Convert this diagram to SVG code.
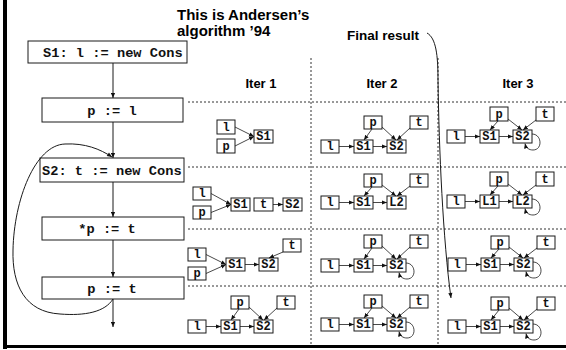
<svg xmlns="http://www.w3.org/2000/svg" width="566" height="350" viewBox="0 0 566 350">
<style>
.b{fill:#fff;stroke:#1a1a1a;stroke-width:1}
.m{font-family:"Liberation Mono","Courier New",monospace;font-weight:bold;font-size:12px;text-anchor:middle;fill:#111}
.fm{font-family:"Liberation Mono","Courier New",monospace;font-weight:bold;font-size:13.7px;fill:#111}
.h{font-family:"Liberation Sans",Arial,sans-serif;font-weight:bold;fill:#000}
.e{fill:none;stroke:#1a1a1a;stroke-width:0.8;marker-end:url(#a)}
.f{fill:none;stroke:#1a1a1a;stroke-width:1;marker-end:url(#fa)}
.d{stroke:#333;stroke-width:1;stroke-dasharray:2 2;fill:none}
</style>
<defs>
<marker id="a" viewBox="0 0 6 6" refX="6" refY="3" markerWidth="5" markerHeight="5" markerUnits="userSpaceOnUse" orient="auto"><path d="M0,0.5 L6,3 L0,5.5z" fill="#111"/></marker>
<marker id="fa" viewBox="0 0 6 6" refX="6" refY="3" markerWidth="6" markerHeight="5" markerUnits="userSpaceOnUse" orient="auto"><path d="M0,0.5 L6,3 L0,5.5z" fill="#111"/></marker>
</defs>
<rect x="0" y="0" width="566" height="350" fill="#fff"/>
<rect x="3" y="0" width="4" height="349" fill="#000"/>
<rect x="3" y="345" width="563" height="3" fill="#000"/>

<text class="h" x="177" y="20" font-size="15">This is Andersen’s</text>
<text class="h" x="177" y="36" font-size="15">algorithm ’94</text>
<text class="h" x="347" y="40" font-size="13.5">Final result</text>
<text class="h" x="261" y="88" font-size="13" text-anchor="middle">Iter 1</text>
<text class="h" x="382" y="88" font-size="13" text-anchor="middle">Iter 2</text>
<text class="h" x="518" y="88" font-size="13" text-anchor="middle">Iter 3</text>

<g id="grid">
<path class="d" d="M188,102 H566 M188,167 H566 M188,229 H566 M188,286 H566 M311,58 V345 M438,58 V345"/>
</g>

<!-- flowchart -->
<g id="f1"><rect class="b" x="28" y="41" width="159" height="22"/><text class="fm" x="43" y="57">S1: l := new Cons</text></g>
<g id="f2"><rect class="b" x="42" y="98" width="141" height="24"/><text class="fm" x="112" y="114.5" text-anchor="middle">p := l</text></g>
<g id="f3"><rect class="b" x="40" y="158" width="144" height="24"/><text class="fm" x="42" y="174.5">S2: t := new Cons</text></g>
<g id="f4"><rect class="b" x="42" y="217" width="142" height="23"/><text class="fm" x="107" y="233" text-anchor="middle">*p := t</text></g>
<g id="f5"><rect class="b" x="42" y="277" width="142" height="22"/><text class="fm" x="112" y="292.5" text-anchor="middle">p := t</text></g>
<g id="flow-connectors">
<path class="f" d="M113,63 V98"/>
<path class="f" d="M113,122 V158"/>
<path class="f" d="M113,182 V217"/>
<path class="f" d="M113,240 V277"/>
<path class="f" d="M113,299 V327"/>
<path class="f" d="M113,299 C105,312 85,316 60,314 C25,312 12,285 13,250 C14,200 35,145 65,144 C85,143 100,149 112,157"/>
<path class="f" d="M427,33 C436,38 438,55 438,80 C439,150 443,240 451,298"/>
</g>

<!-- Iter 1 row 1 -->
<g id="i1r1">
<g id="i1r1-l"><rect class="b" x="217" y="120" width="18" height="14"/><text class="m" x="226" y="131">l</text></g>
<g id="i1r1-p"><rect class="b" x="217" y="139" width="18" height="14"/><text class="m" x="226" y="150">p</text></g>
<g id="i1r1-S1"><rect class="b" x="254" y="130" width="19" height="13"/><text class="m" x="263.5" y="140">S1</text></g>
<g id="i1r1-edges"><path class="e" d="M235,127 L254,136.5"/><path class="e" d="M235,146 L254,136.5"/></g>
</g>

<!-- Iter 1 row 2 -->
<g id="i1r2">
<g id="i1r2-l"><rect class="b" x="193" y="187" width="18" height="13"/><text class="m" x="202" y="197">l</text></g>
<g id="i1r2-p"><rect class="b" x="193" y="206" width="18" height="13"/><text class="m" x="202" y="216">p</text></g>
<g id="i1r2-S1"><rect class="b" x="231" y="198" width="19" height="13"/><text class="m" x="240.5" y="208">S1</text></g>
<g id="i1r2-t"><rect class="b" x="254" y="198" width="19" height="13"/><text class="m" x="263.5" y="208">t</text></g>
<g id="i1r2-S2"><rect class="b" x="283" y="198" width="19" height="13"/><text class="m" x="292.5" y="208">S2</text></g>
<g id="i1r2-edges"><path class="e" d="M211,193.5 L231,204.5"/><path class="e" d="M211,212.5 L231,204.5"/><path class="e" d="M273,204.5 H283"/></g>
</g>

<!-- Iter 1 row 3 -->
<g id="i1r3">
<g id="i1r3-l"><rect class="b" x="188" y="248" width="18" height="13"/><text class="m" x="197" y="258">l</text></g>
<g id="i1r3-p"><rect class="b" x="188" y="267" width="18" height="13"/><text class="m" x="197" y="277">p</text></g>
<g id="i1r3-S1"><rect class="b" x="226" y="258" width="19" height="13"/><text class="m" x="235.5" y="268">S1</text></g>
<g id="i1r3-S2"><rect class="b" x="259" y="258" width="19" height="13"/><text class="m" x="268.5" y="268">S2</text></g>
<g id="i1r3-t"><rect class="b" x="283" y="239" width="18" height="13"/><text class="m" x="292" y="249">t</text></g>
<g id="i1r3-edges"><path class="e" d="M206,254.5 L226,264.5"/><path class="e" d="M206,273.5 L226,264.5"/><path class="e" d="M245,264.5 H259"/><path class="e" d="M283,252 L269,258"/></g>
</g>

<!-- Iter 1 row 4 -->
<g id="i1r4" transform="translate(188,320)">
<g id="i1r4-l"><rect class="b" x="0" y="0" width="18" height="13"/><text class="m" x="9" y="10">l</text></g>
<g id="i1r4-S1"><rect class="b" x="33" y="0" width="19" height="13"/><text class="m" x="42.5" y="10">S1</text></g>
<g id="i1r4-S2"><rect class="b" x="66" y="0" width="19" height="13"/><text class="m" x="75.5" y="10">S2</text></g>
<g id="i1r4-p"><rect class="b" x="43" y="-24" width="18" height="13"/><text class="m" x="52" y="-14">p</text></g>
<g id="i1r4-t"><rect class="b" x="89" y="-24" width="18" height="13"/><text class="m" x="98" y="-14">t</text></g>
<g id="i1r4-edges"><path class="e" d="M18,6.5 H33"/><path class="e" d="M52,6.5 H66"/><path class="e" d="M51,-11 L43,0"/><path class="e" d="M61,-13 L75,0"/><path class="e" d="M89,-12 L76,0"/></g>
</g>

<!-- Iter 2 row 1 -->
<g id="i2r1" transform="translate(321,140)">
<g id="i2r1-l"><rect class="b" x="0" y="0" width="18" height="13"/><text class="m" x="9" y="10">l</text></g>
<g id="i2r1-S1"><rect class="b" x="33" y="0" width="19" height="13"/><text class="m" x="42.5" y="10">S1</text></g>
<g id="i2r1-S2"><rect class="b" x="66" y="0" width="19" height="13"/><text class="m" x="75.5" y="10">S2</text></g>
<g id="i2r1-p"><rect class="b" x="43" y="-24" width="18" height="13"/><text class="m" x="52" y="-14">p</text></g>
<g id="i2r1-t"><rect class="b" x="89" y="-24" width="18" height="13"/><text class="m" x="98" y="-14">t</text></g>
<g id="i2r1-edges"><path class="e" d="M18,6.5 H33"/><path class="e" d="M52,6.5 H66"/><path class="e" d="M51,-11 L43,0"/><path class="e" d="M61,-13 L75,0"/><path class="e" d="M89,-12 L76,0"/></g>
</g>

<!-- Iter 2 row 2 -->
<g id="i2r2" transform="translate(321,196)">
<g id="i2r2-l"><rect class="b" x="0" y="0" width="18" height="13"/><text class="m" x="9" y="10">l</text></g>
<g id="i2r2-S1"><rect class="b" x="33" y="0" width="19" height="13"/><text class="m" x="42.5" y="10">S1</text></g>
<g id="i2r2-L2"><rect class="b" x="66" y="0" width="19" height="13"/><text class="m" x="75.5" y="10">L2</text></g>
<g id="i2r2-p"><rect class="b" x="43" y="-22" width="18" height="13"/><text class="m" x="52" y="-12">p</text></g>
<g id="i2r2-t"><rect class="b" x="89" y="-22" width="18" height="13"/><text class="m" x="98" y="-12">t</text></g>
<g id="i2r2-edges"><path class="e" d="M18,6.5 H33"/><path class="e" d="M52,6.5 H66"/><path class="e" d="M51,-9 L43,0"/><path class="e" d="M61,-11 L75,0"/><path class="e" d="M89,-10 L76,0"/></g>
</g>

<!-- Iter 2 row 3 -->
<g id="i2r3" transform="translate(321,259)">
<g id="i2r3-l"><rect class="b" x="0" y="0" width="18" height="13"/><text class="m" x="9" y="10">l</text></g>
<g id="i2r3-S1"><rect class="b" x="33" y="0" width="19" height="13"/><text class="m" x="42.5" y="10">S1</text></g>
<g id="i2r3-S2"><rect class="b" x="66" y="0" width="19" height="13"/><text class="m" x="75.5" y="10">S2</text></g>
<g id="i2r3-p"><rect class="b" x="43" y="-24" width="18" height="13"/><text class="m" x="52" y="-14">p</text></g>
<g id="i2r3-t"><rect class="b" x="89" y="-24" width="18" height="13"/><text class="m" x="98" y="-14">t</text></g>
<g id="i2r3-edges"><path class="e" d="M18,6.5 H33"/><path class="e" d="M52,6.5 H66"/><path class="e" d="M51,-11 L43,0"/><path class="e" d="M61,-13 L75,0"/><path class="e" d="M89,-12 L76,0"/><path class="e" d="M85,4 C95,4 96,20 86,20 C82,20 79,18 78,13.5"/></g>
</g>

<!-- Iter 2 row 4 -->
<g id="i2r4" transform="translate(321,318)">
<g id="i2r4-l"><rect class="b" x="0" y="0" width="18" height="13"/><text class="m" x="9" y="10">l</text></g>
<g id="i2r4-S1"><rect class="b" x="33" y="0" width="19" height="13"/><text class="m" x="42.5" y="10">S1</text></g>
<g id="i2r4-S2"><rect class="b" x="66" y="0" width="19" height="13"/><text class="m" x="75.5" y="10">S2</text></g>
<g id="i2r4-p"><rect class="b" x="43" y="-23" width="18" height="13"/><text class="m" x="52" y="-13">p</text></g>
<g id="i2r4-t"><rect class="b" x="89" y="-23" width="18" height="13"/><text class="m" x="98" y="-13">t</text></g>
<g id="i2r4-edges"><path class="e" d="M18,6.5 H33"/><path class="e" d="M52,6.5 H66"/><path class="e" d="M51,-10 L43,0"/><path class="e" d="M61,-12 L75,0"/><path class="e" d="M89,-11 L76,0"/><path class="e" d="M85,4 C95,4 96,20 86,20 C82,20 79,18 78,13.5"/></g>
</g>

<!-- Iter 3 row 1 -->
<g id="i3r1" transform="translate(447,130)">
<g id="i3r1-l"><rect class="b" x="0" y="0" width="18" height="13"/><text class="m" x="9" y="10">l</text></g>
<g id="i3r1-S1"><rect class="b" x="33" y="0" width="19" height="13"/><text class="m" x="42.5" y="10">S1</text></g>
<g id="i3r1-S2"><rect class="b" x="66" y="0" width="19" height="13"/><text class="m" x="75.5" y="10">S2</text></g>
<g id="i3r1-p"><rect class="b" x="43" y="-23" width="18" height="14"/><text class="m" x="52" y="-12.5">p</text></g>
<g id="i3r1-t"><rect class="b" x="89" y="-23" width="18" height="14"/><text class="m" x="98" y="-12.5">t</text></g>
<g id="i3r1-edges"><path class="e" d="M18,6.5 H33"/><path class="e" d="M52,6.5 H66"/><path class="e" d="M51,-9 L43,0"/><path class="e" d="M61,-11 L75,0"/><path class="e" d="M89,-10 L76,0"/><path class="e" d="M85,4 C95,4 96,20 86,20 C82,20 79,18 78,13.5"/></g>
</g>

<!-- Iter 3 row 2 -->
<g id="i3r2" transform="translate(447,195)">
<g id="i3r2-l"><rect class="b" x="0" y="0" width="18" height="13"/><text class="m" x="9" y="10">l</text></g>
<g id="i3r2-L1"><rect class="b" x="33" y="0" width="19" height="13"/><text class="m" x="42.5" y="10">L1</text></g>
<g id="i3r2-L2"><rect class="b" x="66" y="0" width="19" height="13"/><text class="m" x="75.5" y="10">L2</text></g>
<g id="i3r2-p"><rect class="b" x="43" y="-23" width="18" height="14"/><text class="m" x="52" y="-12.5">p</text></g>
<g id="i3r2-t"><rect class="b" x="89" y="-23" width="18" height="14"/><text class="m" x="98" y="-12.5">t</text></g>
<g id="i3r2-edges"><path class="e" d="M18,6.5 H33"/><path class="e" d="M52,6.5 H66"/><path class="e" d="M51,-9 L43,0"/><path class="e" d="M61,-11 L75,0"/><path class="e" d="M89,-10 L76,0"/><path class="e" d="M85,4 C95,4 96,20 86,20 C82,20 79,18 78,13.5"/></g>
</g>

<!-- Iter 3 row 3 -->
<g id="i3r3" transform="translate(448,258)">
<g id="i3r3-l"><rect class="b" x="0" y="0" width="18" height="13"/><text class="m" x="9" y="10">l</text></g>
<g id="i3r3-S1"><rect class="b" x="33" y="0" width="19" height="13"/><text class="m" x="42.5" y="10">S1</text></g>
<g id="i3r3-S2"><rect class="b" x="66" y="0" width="19" height="13"/><text class="m" x="75.5" y="10">S2</text></g>
<g id="i3r3-p"><rect class="b" x="43" y="-22" width="18" height="13"/><text class="m" x="52" y="-12">p</text></g>
<g id="i3r3-t"><rect class="b" x="89" y="-22" width="18" height="13"/><text class="m" x="98" y="-12">t</text></g>
<g id="i3r3-edges"><path class="e" d="M18,6.5 H33"/><path class="e" d="M52,6.5 H66"/><path class="e" d="M51,-9 L43,0"/><path class="e" d="M61,-11 L75,0"/><path class="e" d="M89,-10 L76,0"/><path class="e" d="M85,4 C95,4 96,20 86,20 C82,20 79,18 78,13.5"/></g>
</g>

<!-- Iter 3 row 4 -->
<g id="i3r4" transform="translate(448,320)">
<g id="i3r4-l"><rect class="b" x="0" y="0" width="18" height="13"/><text class="m" x="9" y="10">l</text></g>
<g id="i3r4-S1"><rect class="b" x="33" y="0" width="19" height="13"/><text class="m" x="42.5" y="10">S1</text></g>
<g id="i3r4-S2"><rect class="b" x="66" y="0" width="19" height="13"/><text class="m" x="75.5" y="10">S2</text></g>
<g id="i3r4-p"><rect class="b" x="43" y="-23" width="18" height="13"/><text class="m" x="52" y="-13">p</text></g>
<g id="i3r4-t"><rect class="b" x="89" y="-23" width="18" height="13"/><text class="m" x="98" y="-13">t</text></g>
<g id="i3r4-edges"><path class="e" d="M18,6.5 H33"/><path class="e" d="M52,6.5 H66"/><path class="e" d="M51,-10 L43,0"/><path class="e" d="M61,-12 L75,0"/><path class="e" d="M89,-11 L76,0"/><path class="e" d="M85,4 C95,4 96,20 86,20 C82,20 79,18 78,13.5"/></g>
</g>
</svg>
